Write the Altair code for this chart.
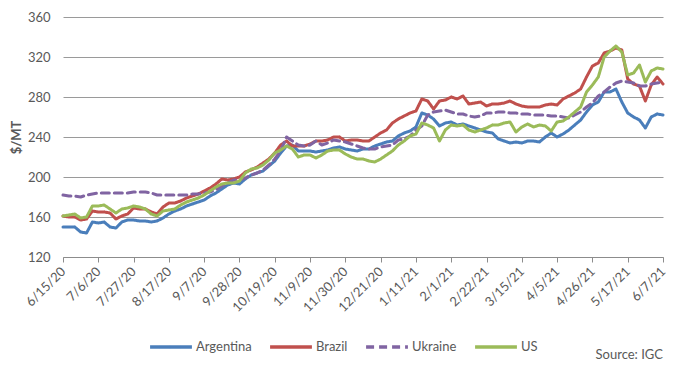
import altair as alt
import pandas as pd

FONT = "Lato"
TEXT_COLOR = "#595959"

series_names = ["Argentina", "Brazil", "Ukraine", "US"]
series_colors = ["#4A7EBB", "#C0504D", "#8064A2", "#9BBB59"]
series_dash = [[1, 0], [1, 0], [8, 5], [1, 0]]

start_date = "2020-06-15"
n_points = 103  # twice-weekly readings, 6/15/20 .. 6/7/21

argentina = [
    150, 150, 150, 145, 144, 155, 154, 155, 150, 149,
    155, 157, 157, 156, 156, 155, 156, 159, 163, 166,
    168, 171, 173, 175, 177, 181, 184, 188, 192, 194,
    193, 198, 202, 204, 206, 211, 216, 224, 231, 232,
    226, 226, 226, 225, 226, 227, 229, 230, 228, 227,
    226, 228, 228, 231, 233, 235, 236, 241, 244, 246,
    250, 264, 262, 258, 251, 254, 255, 252, 253, 251,
    249, 247, 245, 244, 238, 236, 234, 235, 234, 236,
    236, 235, 240, 244, 240, 243, 247, 252, 257, 265,
    272, 275, 285, 285, 288, 275, 264, 260, 257, 249,
    260, 263, 262,
]
brazil = [
    161, 160, 160, 157, 158, 166, 165, 165, 164, 158,
    161, 163, 169, 168, 168, 165, 163, 170, 174, 174,
    176, 179, 181, 183, 186, 189, 193, 198, 197, 198,
    200, 205, 207, 210, 214, 218, 224, 232, 236, 231,
    231, 231, 233, 236, 236, 237, 240, 240, 236, 237,
    237, 236, 236, 240, 244, 247, 254, 258, 261, 264,
    266, 278, 276, 268, 276, 277, 280, 278, 281, 273,
    274, 275, 271, 273, 273, 274, 276, 273, 271, 270,
    270, 270, 272, 273, 272, 278, 281, 284, 288, 300,
    311, 314, 324, 326, 329, 327, 298, 293, 291, 276,
    292, 300, 293,
]
ukraine = [
    182, 181, 181, 180, 182, 183, 184, 184, 184, 184,
    184, 184, 185, 185, 185, 184, 182, 182, 182, 182,
    182, 182, 183, 183, 184, 185, 187, 191, 194, 197,
    197, 199, 202, 204, 207, 212, 218, 226, 240, 236,
    232, 231, 232, 236, 232, 234, 237, 236, 235, 233,
    231, 229, 228, 228, 230, 231, 232, 237, 238, 241,
    247, 251, 262, 265, 266, 267, 265, 263, 263, 261,
    260, 261, 264, 264, 265, 265, 264, 264, 263, 263,
    262, 262, 262, 261, 261, 260, 259, 262, 265, 270,
    274, 281, 285, 290, 294, 296, 295, 294, 291, 291,
    293, 294, 295,
]
us = [
    161, 162, 163, 159, 160, 171, 171, 172, 168, 164,
    168, 169, 171, 170, 168, 163, 161, 166, 167, 168,
    172, 175, 177, 179, 182, 186, 190, 193, 194, 194,
    196, 204, 208, 209, 212, 217, 224, 227, 231, 228,
    220, 222, 222, 219, 222, 226, 227, 227, 223, 220,
    218, 218, 216, 215, 218, 222, 226, 232, 236, 241,
    243, 254, 252, 249, 236, 247, 252, 251, 252, 247,
    245, 247, 249, 252, 252, 254, 255, 245, 250, 253,
    250, 252, 251, 246, 255, 256, 260, 265, 270, 285,
    292, 300, 320, 326, 331, 325, 302, 304, 312, 295,
    306, 309, 308,
]

tick_dates = [
    "2020-06-15", "2020-07-06", "2020-07-27", "2020-08-17", "2020-09-07",
    "2020-09-28", "2020-10-19", "2020-11-09", "2020-11-30", "2020-12-21",
    "2021-01-11", "2021-02-01", "2021-02-22", "2021-03-15", "2021-04-05",
    "2021-04-26", "2021-05-17", "2021-06-07",
]
y_ticks = [120, 160, 200, 240, 280, 320, 360]
y_title = "$/MT"
source_text = "Source: IGC"

dates = pd.date_range(start_date, periods=n_points, freq="84h")
date_str = [d.strftime("%Y-%m-%dT%H:%M:%S") for d in dates]

rows = []
for name, vals in zip(series_names, [argentina, brazil, ukraine, us]):
    for d, v in zip(date_str, vals):
        rows.append({"date": d, "value": v, "series": name})
df = pd.DataFrame(rows)


def dt(s):
    y, m, d = (int(p) for p in s.split("-"))
    return alt.DateTime(year=y, month=m, date=d)


tick_vals = [dt(s) for s in tick_dates]

PLOT_TOP = 9
PLOT_H = 240

legend_cfg = dict(
    orient="none", legendX=85, legendY=345 - 8 - PLOT_TOP - 21, direction="horizontal",
    columns=4, title=None, symbolType="stroke", symbolSize=1750, symbolStrokeWidth=3.5,
    labelFontSize=13, labelColor=TEXT_COLOR, labelFont=FONT, columnPadding=11,
    labelOffset=2, padding=0,
)

lines = alt.Chart(df).mark_line(strokeWidth=3, strokeJoin="round", strokeCap="round").encode(
    x=alt.X(
        "date:T",
        scale=alt.Scale(domain=[dt(tick_dates[0]), dt(tick_dates[-1])], nice=False),
        axis=alt.Axis(
            values=tick_vals, format="%-m/%-d/%y", labelAngle=-45, labelAlign="right",
            labelBaseline="middle", labelPadding=7, title=None, grid=False,
            domainColor="#8c8c8c", tickColor="#8c8c8c", tickSize=5,
            labelFontSize=13, labelColor=TEXT_COLOR, labelFont=FONT, labelOverlap=False,
        ),
    ),
    y=alt.Y(
        "value:Q",
        scale=alt.Scale(domain=[120, 360], nice=False, zero=False),
        axis=alt.Axis(
            values=y_ticks, title=y_title, domain=False, ticks=False, labelPadding=13,
            gridColor="#9a9a9a", labelFontSize=13, labelColor=TEXT_COLOR, labelFont=FONT,
            titleFont=FONT, titleFontSize=13, titleColor=TEXT_COLOR, titleFontWeight="bold",
            titleAngle=-90, titleX=-47, titleY=PLOT_H / 2, titleAlign="center",
            titleBaseline="middle",
        ),
    ),
    color=alt.Color(
        "series:N", scale=alt.Scale(domain=series_names, range=series_colors),
        legend=alt.Legend(**legend_cfg),
    ),
    strokeDash=alt.StrokeDash(
        "series:N", scale=alt.Scale(domain=series_names, range=series_dash),
        legend=alt.Legend(**legend_cfg),
    ),
)

source = alt.Chart(pd.DataFrame({"label": [source_text]})).mark_text(
    align="right", baseline="middle", fontSize=13, color=TEXT_COLOR, font=FONT,
).encode(x=alt.value(600), y=alt.value(355 - 8 - PLOT_TOP), text="label:N")

chart = alt.layer(lines, source).properties(
    width=600, height=PLOT_H,
    autosize=alt.AutoSizeParams(type="none"),
    padding={"left": 55, "top": PLOT_TOP, "right": 9, "bottom": 361 - PLOT_TOP - PLOT_H},
).configure_view(stroke=None)

chart.save("out.html", embed_options={"renderer": "svg", "actions": False})
